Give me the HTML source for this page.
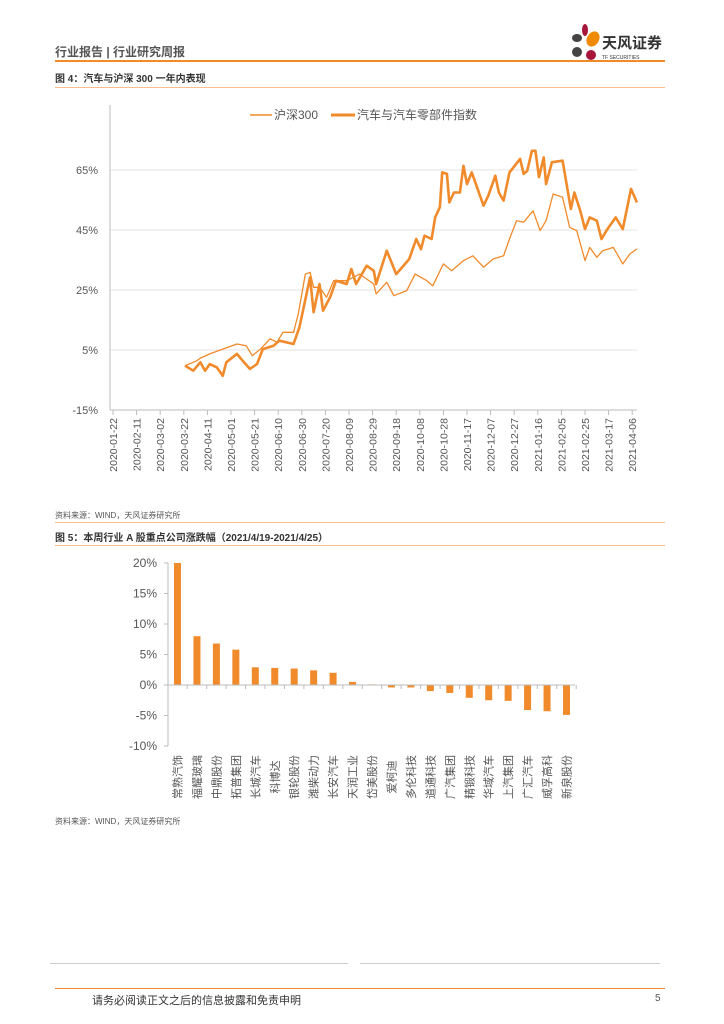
<!DOCTYPE html>
<html><head><meta charset="utf-8"><style>
body{margin:0;width:724px;height:1024px;background:#fff;position:relative;font-family:"Liberation Sans","Noto Sans CJK SC",sans-serif;overflow:hidden}
.a{position:absolute;white-space:nowrap}
</style></head><body>
<div class="a" style="left:55px;top:43px;font-size:12px;color:#555;font-weight:bold">行业报告 | 行业研究周报</div>
<div class="a" style="left:55px;top:60px;width:610px;height:2px;background:#f08a2a"></div>
<svg class="a" style="left:565px;top:22px" width="105" height="42">
<ellipse cx="20" cy="8" rx="3" ry="6" fill="#a8153a"/><ellipse cx="12" cy="16" rx="5" ry="4" fill="#444"/><ellipse cx="28" cy="17" rx="6" ry="8" fill="#f08a00" transform="rotate(30 28 17)"/><ellipse cx="12" cy="30" rx="5" ry="5" fill="#444"/><ellipse cx="26" cy="33" rx="5" ry="5" fill="#a8153a"/>
<text x="37" y="26" font-size="15" font-weight="bold" fill="#333" font-family="Liberation Sans,Noto Sans CJK SC,sans-serif">天风证券</text>
<text x="37" y="37" font-size="5" fill="#333" font-family="Liberation Sans,sans-serif">TF SECURITIES</text></svg>
<div class="a" style="left:55px;top:70px;font-size:10px;color:#333;font-weight:bold">图 4：汽车与沪深 300 一年内表现</div>
<div class="a" style="left:55px;top:87px;width:610px;height:1px;background:#f7c08a"></div>

<svg class="a" id="c1" style="left:0;top:95px" width="724" height="400"></svg>
<div class="a" style="left:55px;top:510px;font-size:8px;color:#555">资料来源：WIND，天风证券研究所</div>
<div class="a" style="left:55px;top:522px;width:610px;height:1px;background:#f7c08a"></div>
<div class="a" style="left:55px;top:529px;font-size:10px;color:#333;font-weight:bold">图 5：本周行业 A 股重点公司涨跌幅（2021/4/19-2021/4/25）</div>
<div class="a" style="left:55px;top:545px;width:610px;height:1px;background:#f7c08a"></div>
<svg class="a" id="c2" style="left:0;top:550px" width="724" height="260"></svg>
<div class="a" style="left:55px;top:816px;font-size:8px;color:#555">资料来源：WIND，天风证券研究所</div>
<div class="a" style="left:50px;top:963px;width:298px;height:1px;background:#ccc"></div>
<div class="a" style="left:360px;top:963px;width:300px;height:1px;background:#ccc"></div>
<div class="a" style="left:55px;top:988px;width:610px;height:1px;background:#f08a2a"></div>
<div class="a" style="left:92px;top:992px;font-size:11px;color:#333">请务必阅读正文之后的信息披露和免责申明</div>
<div class="a" style="left:655px;top:993px;font-size:10px;color:#555">5</div>
<script>
const dateLabels=["2020-01-22","2020-02-11","2020-03-02","2020-03-22","2020-04-11","2020-05-01","2020-05-21","2020-06-10","2020-06-30","2020-07-20","2020-08-09","2020-08-29","2020-09-18","2020-10-08","2020-10-28","2020-11-17","2020-12-07","2020-12-27","2021-01-16","2021-02-05","2021-02-25","2021-03-17","2021-04-06"];
const yTicks1=[65,45,25,5,-15];
const hsDays=[61,71,74,82,93,105,113,118,125,133,139,144,153,157,163,167,170,175,181,187,198,209,221,223,232,238,249,256,266,271,280,287,297,305,314,322,331,336,342,348,356,362,367,373,381,387,393,400,404,410,415,424,432,438,444];
const hsVals=[-0.2,1.4,2.3,3.7,5.3,7.0,6.4,3.1,5.3,8.7,7.6,10.9,10.9,17.0,30.3,30.9,25.9,25.9,22.6,28.1,28.1,30.3,27.0,23.7,27.6,23.1,24.8,30.3,28.1,26.4,33.7,31.4,34.8,36.4,32.6,35.3,36.4,42.0,48.1,47.6,51.4,44.8,48.1,57.0,55.9,45.9,44.8,34.8,39.2,35.9,38.1,39.2,33.7,37.0,38.7];
const autoDays=[61,68,74,78,82,88,93,96,105,111,116,122,127,136,141,153,158,167,170,175,178,184,189,198,202,206,215,221,223,232,240,251,257,261,264,270,273,277,279,283,285,289,294,297,300,304,308,314,318,324,327,331,336,345,348,351,355,358,361,365,367,372,381,388,391,396,400,404,410,414,419,426,432,439,444];
const autoVals=[-0.2,-1.9,0.9,-1.9,0.3,-0.8,-3.6,0.9,3.7,0.9,-1.3,0.3,5.3,6.4,8.1,7.0,12.6,29.2,17.6,27.0,18.1,22.6,28.1,27.0,32.0,27.0,33.1,31.4,27.0,38.1,30.3,35.3,42.0,38.6,43.1,42.0,49.2,52.6,64.2,63.7,54.2,57.5,57.5,66.4,60.3,64.2,59.8,53.1,56.4,63.1,57.5,54.8,64.2,68.7,63.7,64.7,71.4,71.4,62.6,69.2,60.3,67.6,68.1,52.0,57.5,51.4,45.3,49.2,48.1,42.0,45.3,49.2,45.3,58.7,54.2];
const ns="http://www.w3.org/2000/svg";
function mk(p,t,a){const e=document.createElementNS(ns,t);for(const k in a)e.setAttribute(k,a[k]);p.appendChild(e);return e;}
const c1=document.getElementById('c1');
const X1=d=>113+d*1.18, Y1=v=>75+(65-v)*3;
yTicks1.forEach(v=>{
 const g=mk(c1,'line',{x1:110,x2:637,y1:Y1(v),y2:Y1(v),stroke:'#e3e3e3','stroke-width':1});
 
 const t=mk(c1,'text',{x:98,y:Y1(v)+4,'text-anchor':'end','font-size':11,fill:'#555'});t.textContent=v+'%';
 
});
const ax=mk(c1,'line',{x1:110,x2:637,y1:Y1(-15),y2:Y1(-15),stroke:'#bbb'});

mk(c1,'line',{x1:110,x2:110,y1:Y1(65)-65,y2:Y1(-15),stroke:'#bbb'});
dateLabels.forEach((d,i)=>{const x=X1(i*20);
 mk(c1,'line',{x1:x,x2:x,y1:Y1(-15),y2:Y1(-15)+5,stroke:'#bbb'});
 const t=mk(c1,'text',{x:0,y:0,transform:`translate(${x+4},${Y1(-15)+8}) rotate(-90)`,'text-anchor':'end','font-size':10.5,fill:'#555'});t.textContent=d;
 });
function line(days,vals,w,name){const p=mk(c1,'polyline',{points:days.map((d,i)=>X1(d)+','+Y1(vals[i])).join(' '),fill:'none',stroke:'#f08a2a','stroke-width':w,'stroke-linejoin':'round'});
 }
line(hsDays,hsVals,1.3,'hs300-line');line(autoDays,autoVals,2.6,'auto-index-line');
let l=mk(c1,'line',{x1:250,x2:272,y1:20,y2:20,stroke:'#f08a2a','stroke-width':1.5});
let t=mk(c1,'text',{x:274,y:24,'font-size':12,fill:'#555'});t.textContent='沪深300';
l=mk(c1,'line',{x1:331,x2:355,y1:20,y2:20,stroke:'#f08a2a','stroke-width':3});
t=mk(c1,'text',{x:357,y:24,'font-size':12,fill:'#555'});t.textContent='汽车与汽车零部件指数';

const companies=["常熟汽饰","福耀玻璃","中鼎股份","拓普集团","长城汽车","科博达","银轮股份","潍柴动力","长安汽车","天润工业","岱美股份","爱柯迪","多伦科技","道通科技","广汽集团","精锻科技","华域汽车","上汽集团","广汇汽车","威孚高科","新泉股份"];
const changes=[20,8,6.8,5.8,2.9,2.8,2.7,2.4,2.0,0.5,0.1,-0.4,-0.4,-1.0,-1.3,-2.1,-2.5,-2.6,-4.1,-4.3,-4.9];
const yTicks2=[20,15,10,5,0,-5,-10];
const c2=document.getElementById('c2');
const Y2=v=>13+(20-v)*6.1, X2=i=>177.5+i*19.45;
mk(c2,'line',{x1:168,x2:168,y1:Y2(20),y2:Y2(-10),stroke:'#bbb'});
yTicks2.forEach(v=>{mk(c2,'line',{x1:164,x2:168,y1:Y2(v),y2:Y2(v),stroke:'#bbb'});
 const t=mk(c2,'text',{x:157,y:Y2(v)+4,'text-anchor':'end','font-size':12,fill:'#555'});t.textContent=v+'%';
 });
companies.forEach((c,i)=>{const v=changes[i];
 const r=mk(c2,'rect',{x:X2(i)-3.5,y:Math.min(Y2(v),Y2(0)),width:7,height:Math.max(1,Math.abs(Y2(v)-Y2(0))),fill:'#f08a2a'});
 
 const t=mk(c2,'text',{x:0,y:0,transform:`translate(${X2(i)+4},227) rotate(-90)`,'text-anchor':'middle','font-size':11,fill:'#555'});t.textContent=c;
 });
const a2=mk(c2,'line',{x1:168,x2:575,y1:Y2(0),y2:Y2(0),stroke:'#bbb'});

companies.forEach((c,i)=>mk(c2,'line',{x1:X2(i)+9.7,x2:X2(i)+9.7,y1:Y2(0),y2:Y2(0)+4,stroke:'#bbb'}));
</script>
</body></html>
